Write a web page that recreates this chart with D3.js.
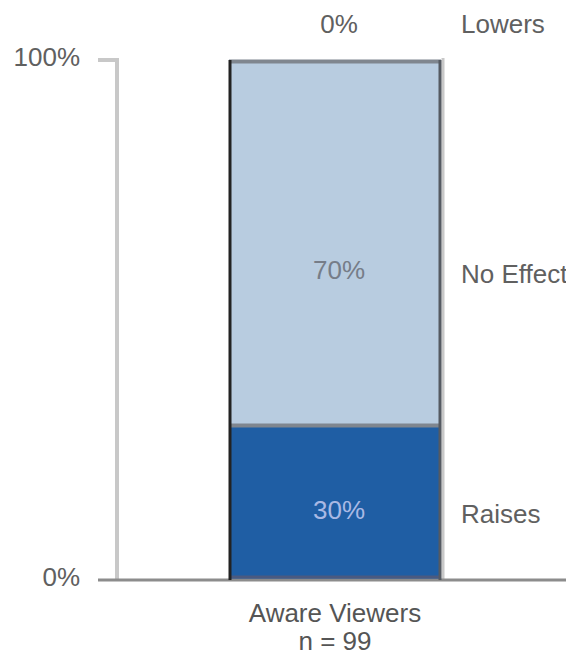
<!DOCTYPE html>
<html>
<head>
<meta charset="utf-8">
<script src="https://cdn.jsdelivr.net/npm/d3@7"></script>
<style>
  html, body { margin: 0; padding: 0; background: #fff; overflow: hidden; }
  svg { display: block; font-family: "Liberation Sans", Arial, sans-serif; }
</style>
</head>
<body>
<div id="chart"></div>
<script>
const categories = ['Aware Viewers'];
const sampleSizes = ['n = 99'];
const segments = ['Raises', 'No Effect', 'Lowers'];
const values = [30, 70, 0];
const segmentColors = ['#1f5ea4', '#b8cce0', '#b8cce0'];
const labelColors = ['#a9b9e4', '#767d88', '#606060'];
const yTicks = [0, 100];

const width = 566;
const height = 656;
const fontSize = 26;
// labels in the source sit a little below the segment middle
const labelNudge = { 'Raises': 8, 'No Effect': 28 };

const svg = d3.select('#chart').append('svg')
  .attr('width', width)
  .attr('height', height);

const y = d3.scaleLinear().domain([0, 100]).range([580, 60]);
const x = d3.scaleBand().domain(categories).range([229, 441]).padding(0);

// stack the segments
let acc = 0;
const stacked = segments.map((name, i) => {
  const d = { name, value: values[i], y0: acc, y1: acc + values[i], i };
  acc += values[i];
  return d;
});

const labelY = d => d.value > 0 ? (y(d.y0) + y(d.y1)) / 2 + (labelNudge[d.name] || 0) : 24;

// y axis: light vertical line with top tick
svg.append('line')
  .attr('x1', 117).attr('x2', 117)
  .attr('y1', y(100) - 2).attr('y2', y(0))
  .attr('stroke', '#c8c8c8').attr('stroke-width', 4);
svg.append('line')
  .attr('x1', 98).attr('x2', 119)
  .attr('y1', y(100)).attr('y2', y(100))
  .attr('stroke', '#c8c8c8').attr('stroke-width', 4);

svg.selectAll('.y-label')
  .data(yTicks)
  .join('text')
  .attr('class', 'y-label')
  .attr('x', 80)
  .attr('y', d => y(d) - 3)
  .attr('dy', '0.35em')
  .attr('text-anchor', 'end')
  .attr('font-size', fontSize)
  .attr('fill', '#606060')
  .text(d => d + '%');

const bx = x(categories[0]);
const bw = x.bandwidth();

// shadow on the right edge
svg.append('line')
  .attr('x1', bx + bw + 2).attr('x2', bx + bw + 2)
  .attr('y1', y(100) - 2).attr('y2', y(0))
  .attr('stroke', '#c8c8c8').attr('stroke-width', 3);

svg.selectAll('.seg')
  .data(stacked.filter(d => d.value > 0))
  .join('rect')
  .attr('class', 'seg')
  .attr('x', bx)
  .attr('width', bw)
  .attr('y', d => y(d.y1))
  .attr('height', d => y(d.y0) - y(d.y1))
  .attr('fill', d => segmentColors[d.i]);

// segment borders
svg.selectAll('.seg-top')
  .data(stacked.filter(d => d.value > 0))
  .join('line')
  .attr('class', 'seg-top')
  .attr('x1', bx).attr('x2', bx + bw)
  .attr('y1', d => y(d.y1) + 1.5).attr('y2', d => y(d.y1) + 1.5)
  .attr('stroke', '#7f868f').attr('stroke-width', 4);

// baseline
svg.append('line')
  .attr('x1', 98).attr('x2', width)
  .attr('y1', y(0)).attr('y2', y(0))
  .attr('stroke', '#8c8c8c').attr('stroke-width', 3);
svg.append('line')
  .attr('x1', bx).attr('x2', bx + bw)
  .attr('y1', y(0) - 3).attr('y2', y(0) - 3)
  .attr('stroke', '#4a5a80').attr('stroke-width', 3);

// bar sides
svg.append('line')
  .attr('x1', bx + 1).attr('x2', bx + 1)
  .attr('y1', y(100)).attr('y2', y(0))
  .attr('stroke', '#222').attr('stroke-width', 3);
svg.append('line')
  .attr('x1', bx + bw - 1).attr('x2', bx + bw - 1)
  .attr('y1', y(100)).attr('y2', y(0))
  .attr('stroke', '#555a62').attr('stroke-width', 3);

// value labels
svg.selectAll('.val')
  .data(stacked)
  .join('text')
  .attr('class', 'val')
  .attr('x', bx + bw / 2 + 4)
  .attr('y', labelY)
  .attr('dy', '0.35em')
  .attr('text-anchor', 'middle')
  .attr('font-size', fontSize)
  .attr('fill', d => labelColors[d.i])
  .text(d => d.value + '%');

// segment names on the right
svg.selectAll('.seg-name')
  .data(stacked)
  .join('text')
  .attr('class', 'seg-name')
  .attr('x', 461)
  .attr('y', d => labelY(d) + (d.value > 0 ? 4 : 0))
  .attr('dy', '0.35em')
  .attr('font-size', fontSize)
  .attr('fill', '#606060')
  .text(d => d.name);

// category label
svg.append('text')
  .attr('x', bx + bw / 2)
  .attr('y', 613)
  .attr('dy', '0.35em')
  .attr('text-anchor', 'middle')
  .attr('font-size', fontSize)
  .attr('fill', '#555')
  .text(categories[0]);
svg.append('text')
  .attr('x', bx + bw / 2)
  .attr('y', 641)
  .attr('dy', '0.35em')
  .attr('text-anchor', 'middle')
  .attr('font-size', fontSize)
  .attr('fill', '#555')
  .text(sampleSizes[0]);
</script>
</body>
</html>
